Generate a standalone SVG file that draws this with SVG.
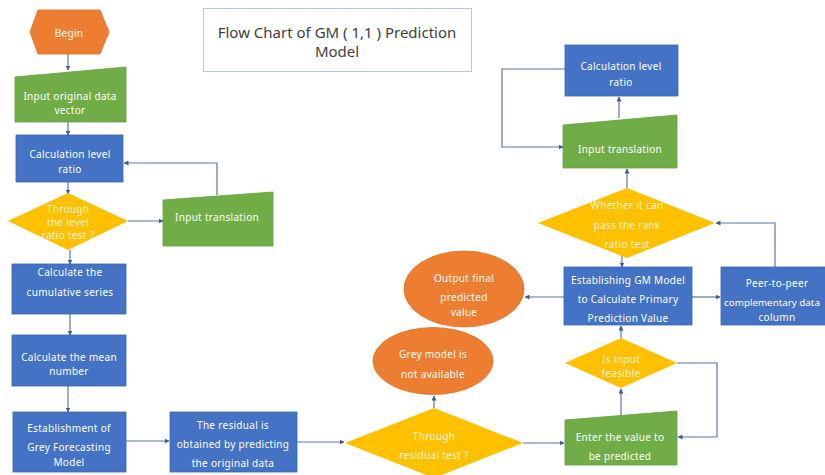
<svg xmlns="http://www.w3.org/2000/svg" width="825" height="475" viewBox="0 0 825 475">
<defs>
<style>
.t{font-family:"Noto Sans","Open Sans",sans-serif;font-size:10px;fill:#ffffff;text-anchor:middle;dominant-baseline:central;letter-spacing:0.3px}
.dt{fill:#FFF6DA}
.title{font-family:"Noto Sans","Open Sans",sans-serif;font-size:15px;fill:#404040;text-anchor:middle;dominant-baseline:central}
.blue{fill:#4472C4;stroke:#3A64B0;stroke-width:0.8}
.green{fill:#70AD47;stroke:#62A03C;stroke-width:0.8}
.orange{fill:#ED7D31;stroke:#E06E22;stroke-width:0.8}
.yellow{fill:#FFC000}
.c{fill:none;stroke:#5A77A6;stroke-width:1.2;marker-end:url(#ah)}
.cn{fill:none;stroke:#5A77A6;stroke-width:1.2}
</style>
<marker id="ah" viewBox="0 0 10 10" refX="9" refY="5" markerWidth="5" markerHeight="5" orient="auto" markerUnits="userSpaceOnUse">
<path d="M0,0 L10,5 L0,10 z" fill="#3E5F94"/>
</marker>
</defs>
<rect width="825" height="475" fill="#ffffff"/>

<g id="title">
<rect x="203.5" y="8.5" width="268" height="63" fill="#ffffff" stroke="#B4C8D8" stroke-width="1"/>
<text class="title" x="337" y="32">Flow Chart of GM ( 1,1 ) Prediction</text>
<text class="title" x="337" y="51">Model</text>
</g>

<g id="connectors">
<path class="c" d="M68,54 V70"/>
<path class="c" d="M68,122 V135"/>
<path class="c" d="M68,182 V194"/>
<path class="c" d="M128,221 H163"/>
<path class="c" d="M217,195 V163 H124"/>
<path class="c" d="M70,250 V264"/>
<path class="c" d="M70,314 V335"/>
<path class="c" d="M68,386 V412"/>
<path class="c" d="M126,441 H169"/>
<path class="c" d="M297,442 H344"/>
<path class="c" d="M434,408 V396"/>
<path class="c" d="M523,443 H564"/>
<path class="c" d="M621,416 V389"/>
<path class="cn" d="M677,363 H717 V437"/>
<path class="c" d="M717,437 H678"/>
<path class="c" d="M621,338 V326"/>
<path class="c" d="M564,297 H525"/>
<path class="c" d="M692,297 H720"/>
<path class="c" d="M775,267 V223 H716"/>
<path class="c" d="M622,252 V267"/>
<path class="c" d="M627,188 V169"/>
<path class="c" d="M619,118 V97"/>
<path class="c" d="M565,69 H502 V147 H563"/>
</g>

<g id="begin">
<polygon class="orange" points="38,10 100,10 109,32 100,54 38,54 30,32"/>
<text class="t" x="69" y="33">Begin</text>
</g>

<g id="input-original">
<polygon class="green" points="15,77 126,67 126,122 15,122"/>
<text class="t" x="70" y="96">Input original data</text>
<text class="t" x="70" y="110">vector</text>
</g>

<g id="calc-ratio-left">
<rect class="blue" x="16" y="135" width="107" height="47"/>
<text class="t" x="70" y="154">Calculation level</text>
<text class="t" x="70" y="169">ratio</text>
</g>

<g id="level-ratio-test">
<polygon class="yellow" points="68,193 128,221 68,250 8,221"/>
<text class="t dt" x="68" y="209">Through</text>
<text class="t dt" x="68" y="222">the level</text>
<text class="t dt" x="68" y="235">ratio test ?</text>
</g>

<g id="input-translation-left">
<polygon class="green" points="163,200 273,192 273,246 163,246"/>
<text class="t" x="217" y="217">Input translation</text>
</g>

<g id="cumulative">
<rect class="blue" x="12" y="264" width="114" height="50"/>
<text class="t" x="70" y="272">Calculate the</text>
<text class="t" x="70" y="292">cumulative series</text>
</g>

<g id="mean">
<rect class="blue" x="12" y="335" width="114" height="51"/>
<text class="t" x="69" y="357">Calculate the mean</text>
<text class="t" x="69" y="371">number</text>
</g>

<g id="establishment">
<rect class="blue" x="13" y="412" width="113" height="60"/>
<text class="t" x="69" y="428">Establishment of</text>
<text class="t" x="69" y="447">Grey Forecasting</text>
<text class="t" x="69" y="462">Model</text>
</g>

<g id="residual">
<rect class="blue" x="170" y="412" width="127" height="60"/>
<text class="t" x="233" y="425">The residual is</text>
<text class="t" x="233" y="444">obtained by predicting</text>
<text class="t" x="233" y="463">the original data</text>
</g>

<g id="residual-test">
<polygon class="yellow" points="434,408 523,443 434,478 345,443"/>
<text class="t dt" x="434" y="436">Through</text>
<text class="t dt" x="434" y="455">residual test ?</text>
</g>

<g id="grey-not-available">
<ellipse class="orange" cx="433" cy="361" rx="60" ry="33.5"/>
<text class="t" x="433" y="354">Grey model is</text>
<text class="t" x="433" y="374">not available</text>
</g>

<g id="enter-value">
<polygon class="green" points="565,420 677,411 677,465 565,465"/>
<text class="t" x="620" y="437">Enter the value to</text>
<text class="t" x="620" y="456">be predicted</text>
</g>

<g id="input-feasible">
<polygon class="yellow" points="621,338 677,363 621,388 565,363"/>
<text class="t dt" x="621" y="359">Is input</text>
<text class="t dt" x="621" y="373">feasible</text>
</g>

<g id="gm-model">
<rect class="blue" x="564" y="267" width="128" height="58"/>
<text class="t" x="628" y="280">Establishing GM Model</text>
<text class="t" x="628" y="299">to Calculate Primary</text>
<text class="t" x="628" y="318">Prediction Value</text>
</g>

<g id="output-final">
<ellipse class="orange" cx="464" cy="289" rx="60" ry="38"/>
<text class="t" x="464" y="278">Output final</text>
<text class="t" x="464" y="297">predicted</text>
<text class="t" x="464" y="312">value</text>
</g>

<g id="peer">
<rect class="blue" x="721" y="267" width="114" height="58"/>
<text class="t" x="777" y="283">Peer-to-peer</text>
<text class="t" x="772" y="302" style="letter-spacing:0;font-size:9.8px">complementary data</text>
<text class="t" x="777" y="317">column</text>
</g>

<g id="rank-ratio-test">
<polygon class="yellow" points="627,188 715,223 627,258 538,223"/>
<text class="t dt" x="627" y="205">Whether it can</text>
<text class="t dt" x="627" y="225">pass the rank</text>
<text class="t dt" x="627" y="244">ratio test</text>
</g>

<g id="input-translation-right">
<polygon class="green" points="563,125 677,115 677,168 563,168"/>
<text class="t" x="620" y="149">Input translation</text>
</g>

<g id="calc-ratio-right">
<rect class="blue" x="565" y="45" width="113" height="51"/>
<text class="t" x="621" y="66">Calculation level</text>
<text class="t" x="621" y="82">ratio</text>
</g>
</svg>
